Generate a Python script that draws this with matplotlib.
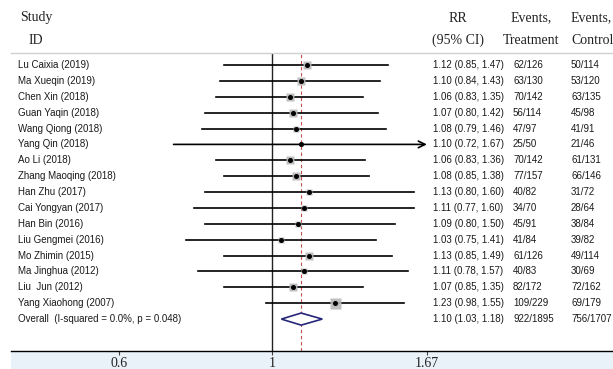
import numpy as np
import matplotlib
matplotlib.use("Agg")
import matplotlib.pyplot as plt
import matplotlib.transforms as mtransforms
from matplotlib.patches import Rectangle, Polygon

# %%
# Data
studies = ["Lu Caixia (2019)", "Ma Xueqin (2019)", "Chen Xin (2018)", "Guan Yaqin (2018)",
           "Wang Qiong (2018)", "Yang Qin (2018)", "Ao Li (2018)", "Zhang Maoqing (2018)",
           "Han Zhu (2017)", "Cai Yongyan (2017)", "Han Bin (2016)", "Liu Gengmei (2016)",
           "Mo Zhimin (2015)", "Ma Jinghua (2012)", "Liu  Jun (2012)", "Yang Xiaohong (2007)"]
rr = [1.12, 1.10, 1.06, 1.07, 1.08, 1.10, 1.06, 1.08, 1.13, 1.11, 1.09, 1.03, 1.13, 1.11, 1.07, 1.23]
lo = [0.85, 0.84, 0.83, 0.80, 0.79, 0.72, 0.83, 0.85, 0.80, 0.77, 0.80, 0.75, 0.85, 0.78, 0.85, 0.98]
hi = [1.47, 1.43, 1.35, 1.42, 1.46, 1.67, 1.36, 1.38, 1.60, 1.60, 1.50, 1.41, 1.49, 1.57, 1.35, 1.55]
ev_trt = ["62/126", "63/130", "70/142", "56/114", "47/97", "25/50", "70/142", "77/157",
          "40/82", "34/70", "45/91", "41/84", "61/126", "40/83", "82/172", "109/229"]
ev_ctl = ["50/114", "53/120", "63/135", "45/98", "41/91", "21/46", "61/131", "66/146",
          "31/72", "28/64", "38/84", "39/82", "49/114", "30/69", "72/162", "69/179"]
weights = [7.8, 6.0, 7.9, 6.1, 5.5, 2.4, 7.6, 8.0, 4.0, 3.2, 4.5, 3.5, 7.2, 3.4, 8.3, 14.6]

overall_label = "Overall  (I-squared = 0.0%, p = 0.048)"
overall_rr, overall_lo, overall_hi = 1.10, 1.03, 1.18
overall_trt, overall_ctl = "922/1895", "756/1707"

xticks = [0.6, 1, 1.67]
xticklabels = ["0.6", "1", "1.67"]
x_clip = 1.67  # axis limit for CI arrows

# %%
W, H = 613, 369
fig = plt.figure(figsize=(W / 100, H / 100), dpi=100)
fig.patch.set_facecolor("white")

# light blue band under the axis
fig.patches.append(Rectangle((11 / W, 0), 1, (H - 352) / H, transform=fig.transFigure,
                             facecolor="#e9f2f9", edgecolor="none", zorder=-5))

ax = fig.add_axes([11 / W, (H - 351) / H, 1 - 11 / W, (351 - 53) / H])
ax.set_facecolor("none")
ax.set_xscale("log")
ax.set_xlim(0.4195, 3.10)
n = len(studies)
ax.set_ylim(18.01, -0.756)

for s in ["left", "right"]:
    ax.spines[s].set_visible(False)
ax.spines["top"].set_color("#d0d0d0")
ax.spines["top"].set_linewidth(1.0)
ax.spines["bottom"].set_color("black")
ax.spines["bottom"].set_linewidth(1.0)
ax.set_yticks([])
ax.set_xticks(xticks)
ax.set_xticklabels(xticklabels, fontfamily="Liberation Serif", fontsize=10, color="#222222")
ax.xaxis.set_minor_locator(matplotlib.ticker.NullLocator())
ax.tick_params(axis="x", length=3, width=0.8, pad=1, color="#444444")

# reference lines
ax.axvline(1, color="#222222", lw=1.0, zorder=1)
ax.axvline(overall_rr, color="#c0504d", lw=0.8, ls=(0, (3, 2.5)), zorder=1)

rows = np.arange(n)
for i in rows:
    if hi[i] >= x_clip:
        ax.annotate("", xy=(x_clip, i), xytext=(lo[i], i),
                    arrowprops=dict(arrowstyle="->", lw=1.2, color="black",
                                    shrinkA=0, shrinkB=0, mutation_scale=12))
    else:
        ax.plot([lo[i], hi[i]], [i, i], color="black", lw=1.2, zorder=2)
    side = 11 * np.sqrt(weights[i] / max(weights)) * 0.72
    ax.plot(rr[i], i, marker="s", ms=side, mfc="#b8b8b8", mec="none", zorder=3, alpha=0.9)
    ax.plot(rr[i], i, marker="o", ms=2.6, color="black", zorder=4)

# overall diamond
yo = n
dh = 0.38
diamond = Polygon([[overall_lo, yo], [overall_rr, yo - dh], [overall_hi, yo], [overall_rr, yo + dh]],
                  closed=True, facecolor="white", edgecolor="#26267a", lw=1.2, zorder=5)
ax.add_patch(diamond)

# %%
# Text columns
trans = mtransforms.blended_transform_factory(fig.transFigure, ax.transData)
tstyle = dict(fontsize=7, color="#1a1a1a", va="center", transform=trans,
              fontfamily="Liberation Sans")
for i in rows:
    ax.text(18 / W, i, studies[i], **tstyle)
    ax.text(433 / W, i, f"{rr[i]:.2f} ({lo[i]:.2f}, {hi[i]:.2f})", **tstyle)
    ax.text(513 / W, i, ev_trt[i], **tstyle)
    ax.text(571 / W, i, ev_ctl[i], **tstyle)
ax.text(18 / W, yo, overall_label, **tstyle)
ax.text(433 / W, yo, f"{overall_rr:.2f} ({overall_lo:.2f}, {overall_hi:.2f})", **tstyle)
ax.text(513 / W, yo, overall_trt, **tstyle)
ax.text(571 / W, yo, overall_ctl, **tstyle)

# headers
hstyle = dict(fontsize=10, color="#222222", va="center", fontfamily="Liberation Serif")
fig.text(20 / W, 1 - 18 / H, "Study", **hstyle)
fig.text(29 / W, 1 - 40 / H, "ID", **hstyle)
fig.text(458 / W, 1 - 18 / H, "RR", ha="center", **hstyle)
fig.text(458 / W, 1 - 40 / H, "(95% CI)", ha="center", **hstyle)
fig.text(531 / W, 1 - 18 / H, "Events,", ha="center", **hstyle)
fig.text(531 / W, 1 - 40 / H, "Treatment", ha="center", **hstyle)
fig.text(571 / W, 1 - 18 / H, "Events,", **hstyle)
fig.text(571 / W, 1 - 40 / H, "Control", **hstyle)

fig.savefig("out.png", dpi=100)
